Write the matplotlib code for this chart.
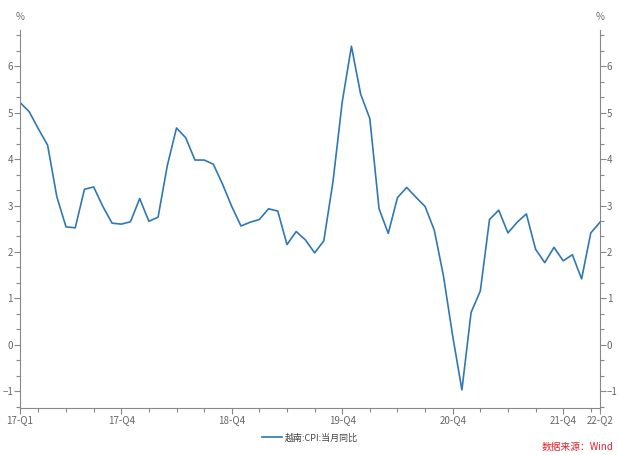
import matplotlib.pyplot as plt
from matplotlib.ticker import MultipleLocator, FixedLocator
import numpy as np

plt.rcParams['font.family'] = ['Noto Sans CJK SC', 'DejaVu Sans']

# Vietnam CPI YoY, monthly Jan 2017 - Apr 2022
cpi = [5.22, 5.02, 4.65, 4.30, 3.19, 2.54, 2.52, 3.35, 3.40, 2.98, 2.62, 2.60,
       2.65, 3.15, 2.66, 2.75, 3.86, 4.67, 4.46, 3.98, 3.98, 3.89, 3.46, 2.98,
       2.56, 2.64, 2.70, 2.93, 2.88, 2.16, 2.44, 2.26, 1.98, 2.24, 3.52, 5.23,
       6.43, 5.40, 4.87, 2.93, 2.40, 3.17, 3.39, 3.18, 2.98, 2.47, 1.48, 0.19,
       -0.97, 0.70, 1.16, 2.70, 2.90, 2.41, 2.64, 2.82, 2.06, 1.77, 2.10, 1.81,
       1.94, 1.42, 2.41, 2.64]
tick_pos = [0, 11, 23, 35, 47, 59, 63]
tick_labels = ['17-Q1', '17-Q4', '18-Q4', '19-Q4', '20-Q4', '21-Q4', '22-Q2']
minor_pos = list(range(2, 63, 3))

grey = '#666666'
spine_c = '#888888'

fig = plt.figure(figsize=(6.18, 4.55), dpi=100)
ax = fig.add_axes([20 / 618, 1 - 408 / 455, 580 / 618, 378 / 455])
x = np.arange(len(cpi))
ax.plot(x, cpi, color='#2f78b4', lw=1.2, label='越南:CPI:当月同比')

ax.set_xlim(0, 63)
ax.set_ylim(-1.36, 6.78)
ax.xaxis.set_major_locator(FixedLocator(tick_pos))
ax.set_xticklabels(tick_labels)
ax.xaxis.set_minor_locator(FixedLocator(minor_pos))
ax.yaxis.set_major_locator(MultipleLocator(1))
ax.yaxis.set_minor_locator(MultipleLocator(1 / 3))

ax.spines['top'].set_visible(False)
for s in ['left', 'right', 'bottom']:
    ax.spines[s].set_color(spine_c)
    ax.spines[s].set_linewidth(0.8)

ax.tick_params(axis='both', which='both', colors=spine_c, labelcolor=grey,
               labelsize=7, width=0.8)
ax.tick_params(axis='both', which='major', length=4, pad=1)
ax.tick_params(axis='both', which='minor', length=3)
ax.tick_params(axis='y', right=True, labelright=True, which='both')

ax.text(0, 7.05, '%', fontsize=7, color=grey, ha='center', va='center')
ax.text(63, 7.05, '%', fontsize=7, color=grey, ha='center', va='center')

leg = ax.legend(loc='upper center', bbox_to_anchor=(0.5, -0.045), frameon=False,
                fontsize=6.5, handlelength=2.2, handletextpad=0.4)
for t in leg.get_texts():
    t.set_color('#444444')

fig.text(613 / 618, 1 - 447 / 455, '数据来源：Wind', color='#e8202a', fontsize=7,
         ha='right', va='center')

fig.savefig('out.png', dpi=100)
